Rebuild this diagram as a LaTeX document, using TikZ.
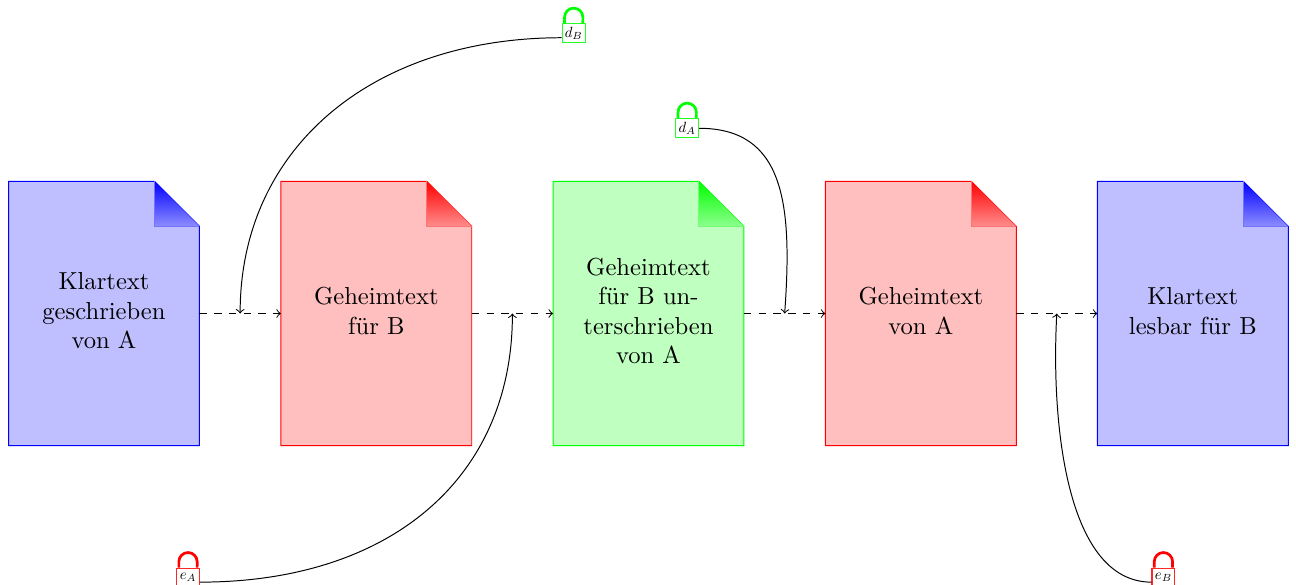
\documentclass[tikz,border=0pt]{standalone}
\usetikzlibrary{calc,shadings}
\tikzset{
  x=0.4065pt,y=-0.4065pt,
  docbody/.style={draw=none,fill=none,minimum width=77.2pt,minimum height=107.1pt,inner sep=0pt,align=center},
  lockbody/.style={draw=#1!85,fill=white,line width=0.45pt,minimum width=9.3pt,minimum height=7.7pt,inner sep=0pt,text=black},
  shackle/.style={draw=#1,line width=1.1pt},
  keycurve/.style={->},
  flow/.style={->,dashed},
}
\newcommand{\docnode}[4]{%
  \node[docbody] (#1) at (#2,313.5) {\raisebox{0.8pt}{\begin{tabular}{@{}c@{}}#4\end{tabular}}};
  \begin{pgfonlayer}{background}
  \draw[#3,fill=#3!25] (#1.north west) -- ([xshift=-18.3pt]#1.north east) -- ([yshift=-18.3pt]#1.north east) -- (#1.south east) -- (#1.south west) -- cycle;
  \shade[top color=#3,bottom color=#3!45] ([xshift=-18.3pt]#1.north east) -- ([yshift=-18.3pt]#1.north east) -- ([xshift=-18.3pt,yshift=-18.3pt]#1.north east) -- cycle;
  \draw[#3!55] ([xshift=-18.3pt]#1.north east) -- ([xshift=-18.3pt,yshift=-18.3pt]#1.north east) -- ([yshift=-18.3pt]#1.north east);
  \end{pgfonlayer}
}
\newcommand{\lockicon}[5]{%
  \node[lockbody=#4] (#1) at (#2,#3) {\scalebox{0.6}{$#5$}};
  \draw[shackle=#4] ([xshift=1.16pt]#1.north west) -- ++(0,-6) arc[start angle=180,end angle=360,radius=9.15] -- ([xshift=-1.16pt]#1.north east);
}
\pgfdeclarelayer{background}
\pgfsetlayers{background,main}
\begin{document}
\begin{tikzpicture}
\path[clip] (0,0) rectangle (1296,585);
\docnode{d1}{104}{blue}{Klartext\\geschrieben\\von A}
\docnode{d2}{376.3}{red}{Geheimtext\\für B}
\docnode{d3}{648.5}{green}{Geheimtext\\für B un-\\terschrieben\\von A}
\docnode{d4}{920.8}{red}{Geheimtext\\von A}
\docnode{d5}{1192.8}{blue}{Klartext\\lesbar für B}
\lockicon{dB}{573.7}{33.3}{green}{d_B}
\lockicon{dA}{687.2}{128.3}{green}{d_A}
\lockicon{eA}{188}{577.7}{red}{e_A}
\lockicon{eB}{1163.4}{577.7}{red}{e_B}
\draw[flow] (d1.east) -- coordinate (m1) (d2.west);
\draw[flow] (d2.east) -- coordinate (m2) (d3.west);
\draw[flow] (d3.east) -- coordinate (m3) (d4.west);
\draw[flow] (d4.east) -- coordinate (m4) (d5.west);
\draw[keycurve] ([yshift=-1.8pt]dB.west) .. controls +(-190,0) and +(0,-165) .. (m1);
\draw[keycurve] ([yshift=-1.8pt]eA.east) .. controls +(190,0) and +(0,165) .. (m2);
\draw[keycurve] (dA.east) .. controls +(85,0) and +(8,-110) .. (m3);
\draw[keycurve] ([yshift=-1.8pt]eB.west) .. controls +(-85,0) and +(-6,110) .. (m4);
\end{tikzpicture}
\end{document}
